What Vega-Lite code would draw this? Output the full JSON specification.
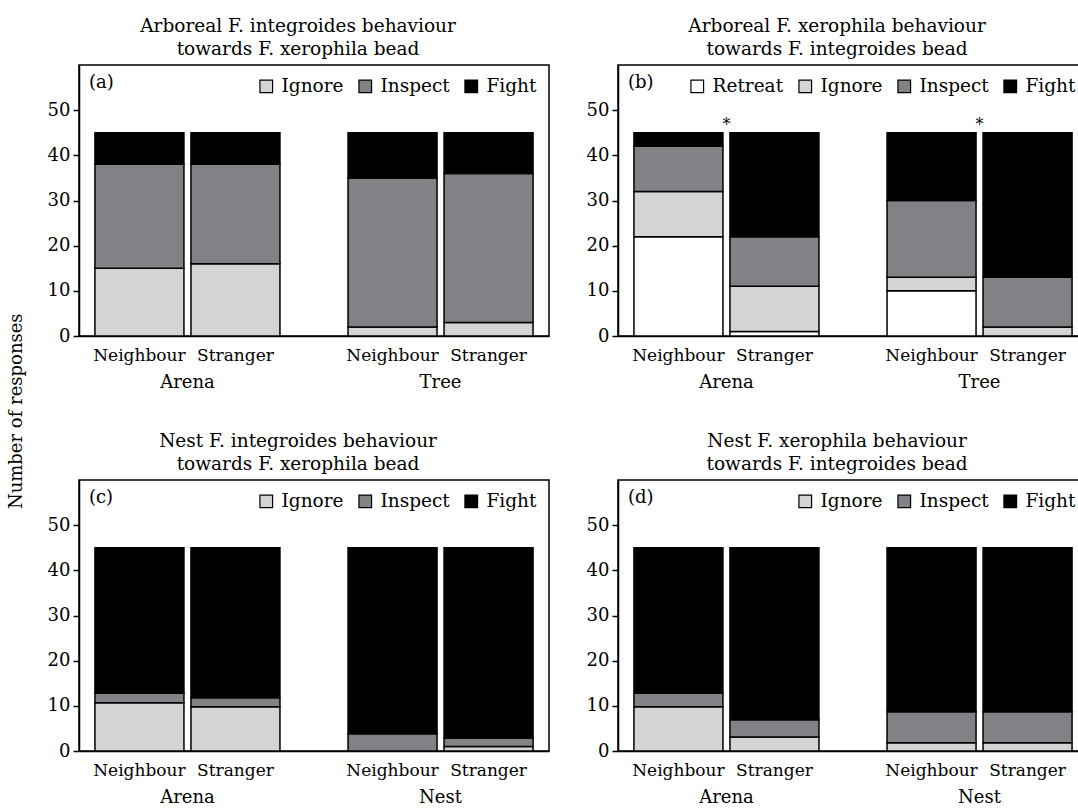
{
  "$schema": "https://vega.github.io/schema/vega-lite/v6.json",
  "background": "white",
  "padding": {"top": 15, "left": 8, "right": 5, "bottom": 5},
  "config": {
    "font": "DejaVu Serif",
    "view": {"stroke": "black", "strokeWidth": 1.5},
    "axis": {"domainColor": "black", "domainWidth": 1.5, "tickColor": "black", "tickWidth": 1.5, "labelColor": "black", "labelFontSize": 18, "grid": false, "titleFontWeight": "normal"},
    "legend": {"labelFontSize": 18.5, "labelColor": "black", "symbolType": "square", "symbolSize": 160, "symbolStrokeColor": "black", "symbolStrokeWidth": 1.2, "symbolOpacity": 1, "columnPadding": 12, "labelOffset": 6},
    "title": {"fontWeight": "normal", "color": "black"}
  },
  "title": {"text": "Number of responses", "orient": "left", "anchor": "middle", "fontSize": 18, "offset": 20},
  "datasets": {
    "counts": [
      {"panel": "a", "location": "Arena", "type": "Neighbour", "behaviour": "Ignore", "n": 15},
      {"panel": "a", "location": "Arena", "type": "Neighbour", "behaviour": "Inspect", "n": 23},
      {"panel": "a", "location": "Arena", "type": "Neighbour", "behaviour": "Fight", "n": 7},
      {"panel": "a", "location": "Arena", "type": "Stranger", "behaviour": "Ignore", "n": 16},
      {"panel": "a", "location": "Arena", "type": "Stranger", "behaviour": "Inspect", "n": 22},
      {"panel": "a", "location": "Arena", "type": "Stranger", "behaviour": "Fight", "n": 7},
      {"panel": "a", "location": "Tree", "type": "Neighbour", "behaviour": "Ignore", "n": 2},
      {"panel": "a", "location": "Tree", "type": "Neighbour", "behaviour": "Inspect", "n": 33},
      {"panel": "a", "location": "Tree", "type": "Neighbour", "behaviour": "Fight", "n": 10},
      {"panel": "a", "location": "Tree", "type": "Stranger", "behaviour": "Ignore", "n": 3},
      {"panel": "a", "location": "Tree", "type": "Stranger", "behaviour": "Inspect", "n": 33},
      {"panel": "a", "location": "Tree", "type": "Stranger", "behaviour": "Fight", "n": 9},

      {"panel": "b", "location": "Arena", "type": "Neighbour", "behaviour": "Retreat", "n": 22},
      {"panel": "b", "location": "Arena", "type": "Neighbour", "behaviour": "Ignore", "n": 10},
      {"panel": "b", "location": "Arena", "type": "Neighbour", "behaviour": "Inspect", "n": 10},
      {"panel": "b", "location": "Arena", "type": "Neighbour", "behaviour": "Fight", "n": 3},
      {"panel": "b", "location": "Arena", "type": "Stranger", "behaviour": "Retreat", "n": 1},
      {"panel": "b", "location": "Arena", "type": "Stranger", "behaviour": "Ignore", "n": 10},
      {"panel": "b", "location": "Arena", "type": "Stranger", "behaviour": "Inspect", "n": 11},
      {"panel": "b", "location": "Arena", "type": "Stranger", "behaviour": "Fight", "n": 23},
      {"panel": "b", "location": "Tree", "type": "Neighbour", "behaviour": "Retreat", "n": 10},
      {"panel": "b", "location": "Tree", "type": "Neighbour", "behaviour": "Ignore", "n": 3},
      {"panel": "b", "location": "Tree", "type": "Neighbour", "behaviour": "Inspect", "n": 17},
      {"panel": "b", "location": "Tree", "type": "Neighbour", "behaviour": "Fight", "n": 15},
      {"panel": "b", "location": "Tree", "type": "Stranger", "behaviour": "Retreat", "n": 0},
      {"panel": "b", "location": "Tree", "type": "Stranger", "behaviour": "Ignore", "n": 2},
      {"panel": "b", "location": "Tree", "type": "Stranger", "behaviour": "Inspect", "n": 11},
      {"panel": "b", "location": "Tree", "type": "Stranger", "behaviour": "Fight", "n": 32},

      {"panel": "c", "location": "Arena", "type": "Neighbour", "behaviour": "Ignore", "n": 10.7},
      {"panel": "c", "location": "Arena", "type": "Neighbour", "behaviour": "Inspect", "n": 2.1},
      {"panel": "c", "location": "Arena", "type": "Neighbour", "behaviour": "Fight", "n": 32.2},
      {"panel": "c", "location": "Arena", "type": "Stranger", "behaviour": "Ignore", "n": 9.8},
      {"panel": "c", "location": "Arena", "type": "Stranger", "behaviour": "Inspect", "n": 2.0},
      {"panel": "c", "location": "Arena", "type": "Stranger", "behaviour": "Fight", "n": 33.2},
      {"panel": "c", "location": "Nest", "type": "Neighbour", "behaviour": "Ignore", "n": 0},
      {"panel": "c", "location": "Nest", "type": "Neighbour", "behaviour": "Inspect", "n": 3.8},
      {"panel": "c", "location": "Nest", "type": "Neighbour", "behaviour": "Fight", "n": 41.2},
      {"panel": "c", "location": "Nest", "type": "Stranger", "behaviour": "Ignore", "n": 1.0},
      {"panel": "c", "location": "Nest", "type": "Stranger", "behaviour": "Inspect", "n": 1.9},
      {"panel": "c", "location": "Nest", "type": "Stranger", "behaviour": "Fight", "n": 42.1},

      {"panel": "d", "location": "Arena", "type": "Neighbour", "behaviour": "Ignore", "n": 9.8},
      {"panel": "d", "location": "Arena", "type": "Neighbour", "behaviour": "Inspect", "n": 3.0},
      {"panel": "d", "location": "Arena", "type": "Neighbour", "behaviour": "Fight", "n": 32.2},
      {"panel": "d", "location": "Arena", "type": "Stranger", "behaviour": "Ignore", "n": 3.1},
      {"panel": "d", "location": "Arena", "type": "Stranger", "behaviour": "Inspect", "n": 3.8},
      {"panel": "d", "location": "Arena", "type": "Stranger", "behaviour": "Fight", "n": 38.1},
      {"panel": "d", "location": "Nest", "type": "Neighbour", "behaviour": "Ignore", "n": 1.8},
      {"panel": "d", "location": "Nest", "type": "Neighbour", "behaviour": "Inspect", "n": 6.9},
      {"panel": "d", "location": "Nest", "type": "Neighbour", "behaviour": "Fight", "n": 36.3},
      {"panel": "d", "location": "Nest", "type": "Stranger", "behaviour": "Ignore", "n": 1.8},
      {"panel": "d", "location": "Nest", "type": "Stranger", "behaviour": "Inspect", "n": 6.9},
      {"panel": "d", "location": "Nest", "type": "Stranger", "behaviour": "Fight", "n": 36.3}
    ],
    "behaviours": [
      {"behaviour": "Retreat", "rank": 0},
      {"behaviour": "Ignore", "rank": 1},
      {"behaviour": "Inspect", "rank": 2},
      {"behaviour": "Fight", "rank": 3}
    ],
    "letters": [
      {"panel": "a", "letter": "(a)"},
      {"panel": "b", "letter": "(b)"},
      {"panel": "c", "letter": "(c)"},
      {"panel": "d", "letter": "(d)"}
    ],
    "sig": [
      {"panel": "b", "location": "Arena", "mark": "*"},
      {"panel": "b", "location": "Tree", "mark": "*"}
    ]
  },
  "resolve": {"scale": {"color": "independent"}, "legend": {"color": "independent"}},
  "spacing": 38,
  "vconcat": [
    {
      "hconcat": [
        {
          "width": 470, "height": 271,
          "title": {"text": ["Arboreal F. integroides behaviour", "towards F. xerophila bead"], "fontSize": 18.5, "lineHeight": 23, "offset": 7, "frame": "bounds"},
          "layer": [
            {
              "data": {"name": "counts"},
              "transform": [{"filter": "datum.panel === 'a'"}, {"lookup": "behaviour", "from": {"data": {"name": "behaviours"}, "key": "behaviour", "fields": ["rank"]}}],
              "mark": {"type": "bar", "stroke": "black", "strokeWidth": 1.5},
              "encoding": {
                "x": {"field": "location", "type": "nominal", "scale": {"paddingInner": 0.269, "paddingOuter": 0.063}, "axis": {"title": null, "ticks": false, "labelPadding": 37, "labelAngle": 0}},
                "xOffset": {"field": "type", "type": "nominal", "scale": {"paddingInner": 0.073, "paddingOuter": 0}},
                "y": {"field": "n", "type": "quantitative", "stack": "zero", "scale": {"domain": [0, 60], "nice": false}, "axis": {"title": null, "values": [0, 10, 20, 30, 40, 50], "tickSize": 6, "labelPadding": 3}},
                "order": {"field": "rank", "type": "quantitative", "sort": "ascending"},
                "color": {"field": "behaviour", "type": "nominal", "sort": ["Ignore", "Inspect", "Fight"], "scale": {"domain": ["Ignore", "Inspect", "Fight"], "range": ["#d3d4d6", "#818285", "#000000"]}, "legend": {"title": null, "orient": "top-right", "direction": "horizontal", "offset": 12}}
              }
            },
            {
              "data": {"name": "counts"},
              "transform": [{"filter": "datum.panel === 'a' && datum.behaviour === 'Fight'"}],
              "mark": {"type": "text", "fontSize": 17, "baseline": "top", "dy": 12, "color": "black"},
              "encoding": {
                "x": {"field": "location", "type": "nominal"},
                "xOffset": {"field": "type", "type": "nominal"},
                "y": {"datum": 0},
                "text": {"field": "type"}
              }
            },
            {
              "data": {"name": "letters"},
              "transform": [{"filter": "datum.panel === 'a'"}],
              "mark": {"type": "text", "fontSize": 18, "align": "left", "baseline": "middle", "dx": -6, "color": "black"},
              "encoding": {
                "x": {"datum": "Arena", "type": "nominal", "bandPosition": 0},
                "y": {"datum": 56},
                "text": {"field": "letter"}
              }
            }
          ]
        },
        {
          "width": 470, "height": 271,
          "title": {"text": ["Arboreal F. xerophila behaviour", "towards F. integroides bead"], "fontSize": 18.5, "lineHeight": 23, "offset": 7, "frame": "bounds"},
          "layer": [
            {
              "data": {"name": "counts"},
              "transform": [{"filter": "datum.panel === 'b'"}, {"lookup": "behaviour", "from": {"data": {"name": "behaviours"}, "key": "behaviour", "fields": ["rank"]}}],
              "mark": {"type": "bar", "stroke": "black", "strokeWidth": 1.5},
              "encoding": {
                "x": {"field": "location", "type": "nominal", "scale": {"paddingInner": 0.269, "paddingOuter": 0.063}, "axis": {"title": null, "ticks": false, "labelPadding": 37, "labelAngle": 0}},
                "xOffset": {"field": "type", "type": "nominal", "scale": {"paddingInner": 0.073, "paddingOuter": 0}},
                "y": {"field": "n", "type": "quantitative", "stack": "zero", "scale": {"domain": [0, 60], "nice": false}, "axis": {"title": null, "values": [0, 10, 20, 30, 40, 50], "tickSize": 6, "labelPadding": 3}},
                "order": {"field": "rank", "type": "quantitative", "sort": "ascending"},
                "color": {"field": "behaviour", "type": "nominal", "sort": ["Retreat", "Ignore", "Inspect", "Fight"], "scale": {"domain": ["Retreat", "Ignore", "Inspect", "Fight"], "range": ["#ffffff", "#d3d4d6", "#818285", "#000000"]}, "legend": {"title": null, "orient": "top-right", "direction": "horizontal", "offset": 12}}
              }
            },
            {
              "data": {"name": "counts"},
              "transform": [{"filter": "datum.panel === 'b' && datum.behaviour === 'Fight'"}],
              "mark": {"type": "text", "fontSize": 17, "baseline": "top", "dy": 12, "color": "black"},
              "encoding": {
                "x": {"field": "location", "type": "nominal"},
                "xOffset": {"field": "type", "type": "nominal"},
                "y": {"datum": 0},
                "text": {"field": "type"}
              }
            },
            {
              "data": {"name": "letters"},
              "transform": [{"filter": "datum.panel === 'b'"}],
              "mark": {"type": "text", "fontSize": 18, "align": "left", "baseline": "middle", "dx": -6, "color": "black"},
              "encoding": {
                "x": {"datum": "Arena", "type": "nominal", "bandPosition": 0},
                "y": {"datum": 56},
                "text": {"field": "letter"}
              }
            },
            {
              "data": {"name": "sig"},
              "mark": {"type": "text", "fontSize": 16, "baseline": "middle", "color": "black"},
              "encoding": {
                "x": {"field": "location", "type": "nominal"},
                "y": {"datum": 46.8},
                "text": {"field": "mark"}
              }
            }
          ]
        }
      ],
      "spacing": 35,
      "resolve": {"scale": {"color": "independent"}, "legend": {"color": "independent"}}
    },
    {
      "hconcat": [
        {
          "width": 470, "height": 271,
          "title": {"text": ["Nest F. integroides behaviour", "towards F. xerophila bead"], "fontSize": 18.5, "lineHeight": 23, "offset": 7, "frame": "bounds"},
          "layer": [
            {
              "data": {"name": "counts"},
              "transform": [{"filter": "datum.panel === 'c'"}, {"lookup": "behaviour", "from": {"data": {"name": "behaviours"}, "key": "behaviour", "fields": ["rank"]}}],
              "mark": {"type": "bar", "stroke": "black", "strokeWidth": 1.5},
              "encoding": {
                "x": {"field": "location", "type": "nominal", "scale": {"paddingInner": 0.269, "paddingOuter": 0.063}, "axis": {"title": null, "ticks": false, "labelPadding": 37, "labelAngle": 0}},
                "xOffset": {"field": "type", "type": "nominal", "scale": {"paddingInner": 0.073, "paddingOuter": 0}},
                "y": {"field": "n", "type": "quantitative", "stack": "zero", "scale": {"domain": [0, 60], "nice": false}, "axis": {"title": null, "values": [0, 10, 20, 30, 40, 50], "tickSize": 6, "labelPadding": 3}},
                "order": {"field": "rank", "type": "quantitative", "sort": "ascending"},
                "color": {"field": "behaviour", "type": "nominal", "sort": ["Ignore", "Inspect", "Fight"], "scale": {"domain": ["Ignore", "Inspect", "Fight"], "range": ["#d3d4d6", "#818285", "#000000"]}, "legend": {"title": null, "orient": "top-right", "direction": "horizontal", "offset": 12}}
              }
            },
            {
              "data": {"name": "counts"},
              "transform": [{"filter": "datum.panel === 'c' && datum.behaviour === 'Fight'"}],
              "mark": {"type": "text", "fontSize": 17, "baseline": "top", "dy": 12, "color": "black"},
              "encoding": {
                "x": {"field": "location", "type": "nominal"},
                "xOffset": {"field": "type", "type": "nominal"},
                "y": {"datum": 0},
                "text": {"field": "type"}
              }
            },
            {
              "data": {"name": "letters"},
              "transform": [{"filter": "datum.panel === 'c'"}],
              "mark": {"type": "text", "fontSize": 18, "align": "left", "baseline": "middle", "dx": -6, "color": "black"},
              "encoding": {
                "x": {"datum": "Arena", "type": "nominal", "bandPosition": 0},
                "y": {"datum": 56},
                "text": {"field": "letter"}
              }
            }
          ]
        },
        {
          "width": 470, "height": 271,
          "title": {"text": ["Nest F. xerophila behaviour", "towards F. integroides bead"], "fontSize": 18.5, "lineHeight": 23, "offset": 7, "frame": "bounds"},
          "layer": [
            {
              "data": {"name": "counts"},
              "transform": [{"filter": "datum.panel === 'd'"}, {"lookup": "behaviour", "from": {"data": {"name": "behaviours"}, "key": "behaviour", "fields": ["rank"]}}],
              "mark": {"type": "bar", "stroke": "black", "strokeWidth": 1.5},
              "encoding": {
                "x": {"field": "location", "type": "nominal", "scale": {"paddingInner": 0.269, "paddingOuter": 0.063}, "axis": {"title": null, "ticks": false, "labelPadding": 37, "labelAngle": 0}},
                "xOffset": {"field": "type", "type": "nominal", "scale": {"paddingInner": 0.073, "paddingOuter": 0}},
                "y": {"field": "n", "type": "quantitative", "stack": "zero", "scale": {"domain": [0, 60], "nice": false}, "axis": {"title": null, "values": [0, 10, 20, 30, 40, 50], "tickSize": 6, "labelPadding": 3}},
                "order": {"field": "rank", "type": "quantitative", "sort": "ascending"},
                "color": {"field": "behaviour", "type": "nominal", "sort": ["Ignore", "Inspect", "Fight"], "scale": {"domain": ["Ignore", "Inspect", "Fight"], "range": ["#d3d4d6", "#818285", "#000000"]}, "legend": {"title": null, "orient": "top-right", "direction": "horizontal", "offset": 12}}
              }
            },
            {
              "data": {"name": "counts"},
              "transform": [{"filter": "datum.panel === 'd' && datum.behaviour === 'Fight'"}],
              "mark": {"type": "text", "fontSize": 17, "baseline": "top", "dy": 12, "color": "black"},
              "encoding": {
                "x": {"field": "location", "type": "nominal"},
                "xOffset": {"field": "type", "type": "nominal"},
                "y": {"datum": 0},
                "text": {"field": "type"}
              }
            },
            {
              "data": {"name": "letters"},
              "transform": [{"filter": "datum.panel === 'd'"}],
              "mark": {"type": "text", "fontSize": 18, "align": "left", "baseline": "middle", "dx": -6, "color": "black"},
              "encoding": {
                "x": {"datum": "Arena", "type": "nominal", "bandPosition": 0},
                "y": {"datum": 56},
                "text": {"field": "letter"}
              }
            }
          ]
        }
      ],
      "spacing": 35,
      "resolve": {"scale": {"color": "independent"}, "legend": {"color": "independent"}}
    }
  ]
}
